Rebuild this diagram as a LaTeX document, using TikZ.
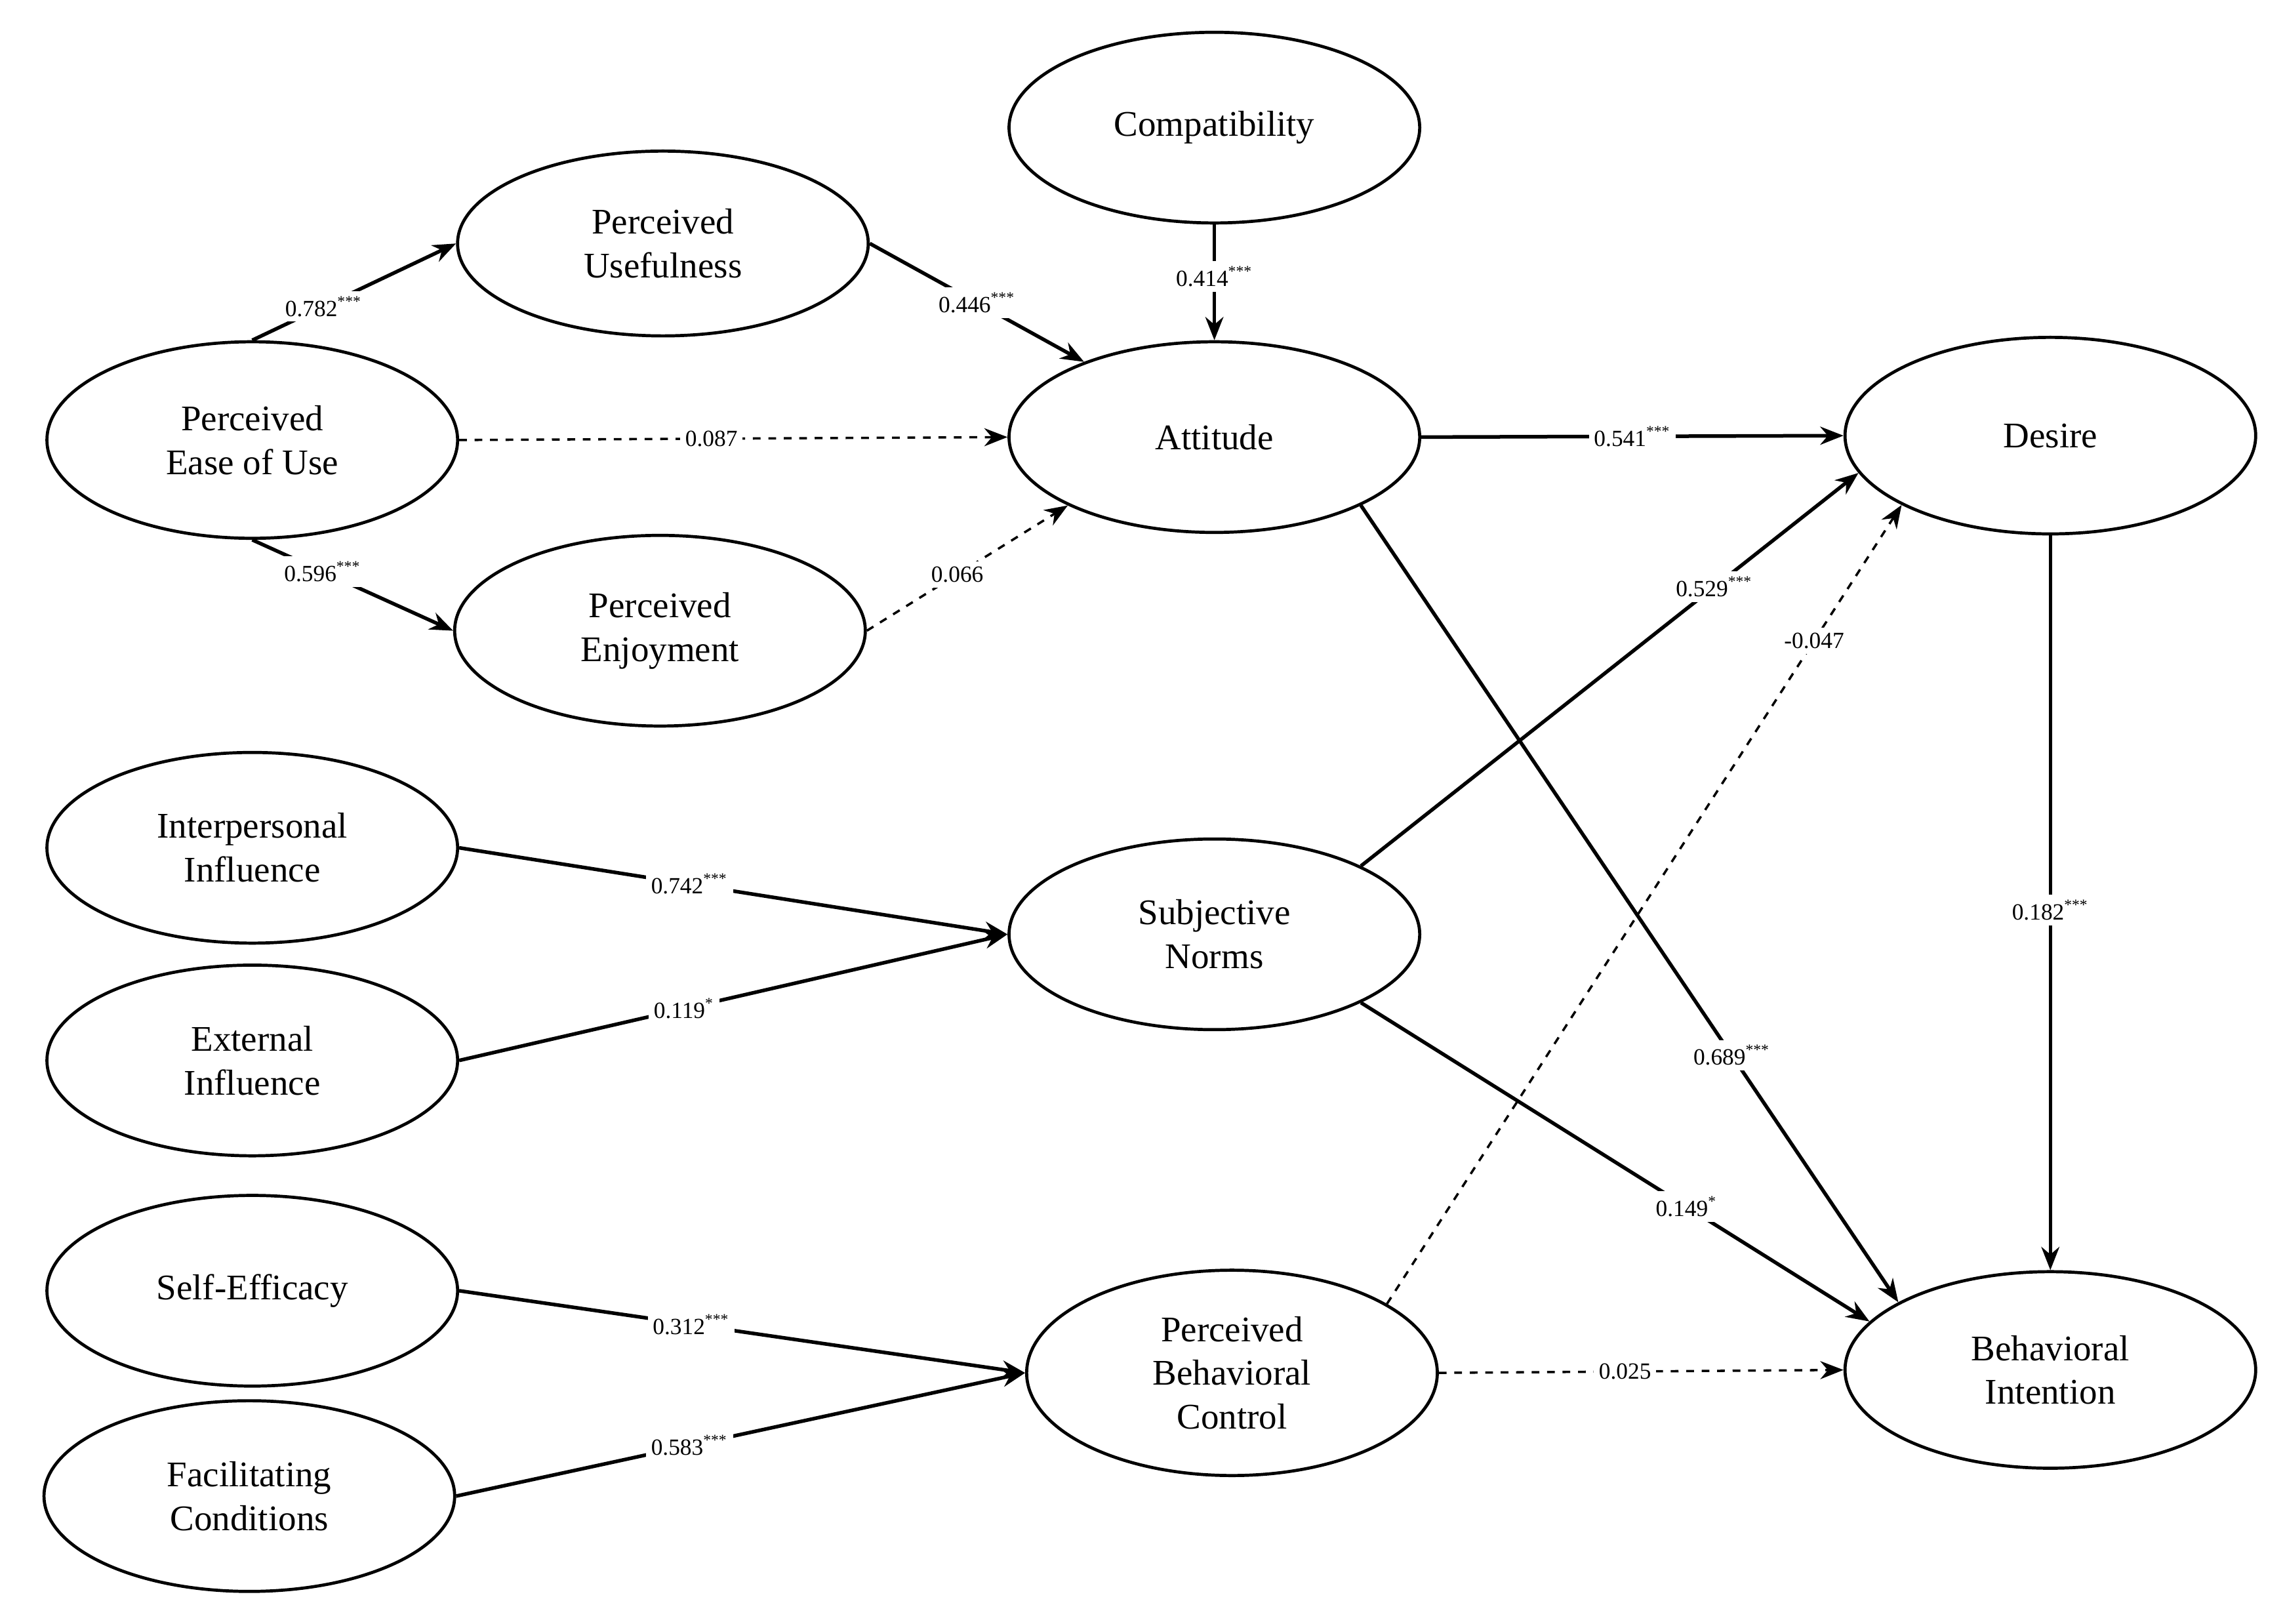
\documentclass[tikz,border=0pt]{standalone}
\usepackage{fontspec}
\setmainfont{Liberation Serif}
\usetikzlibrary{shapes.geometric,arrows.meta}
\begin{document}
\begin{tikzpicture}[x=0.02cm,y=-0.02cm,
  lat/.style={ellipse,draw,line width=1.2pt,minimum width=280\pgfaslength,align=center,font=\fontsize{14}{17}\selectfont},
  con/.style={line width=1.4pt,-{Stealth[length=9pt,width=7pt]}},
  dcon/.style={con,dashed,line width=0.9pt},
  lab/.style={fill=white,font=\fontsize{9}{10}\selectfont,inner sep=2pt}]
\def\pgfaslength{\dimexpr0.02cm\relax}
\useasboundingbox (0,0) rectangle (1558,1107);
\tikzset{e/.style 2 args={lat,minimum width=#1*0.02cm,minimum height=#2*0.02cm}}
\node[e={280}{130}] (compat) at (828,87) {Compatibility};
\node[e={280}{126}] (pu) at (452,166) {Perceived\\Usefulness};
\node[e={280}{134}] (peou) at (172,300) {Perceived\\Ease of Use};
\node[e={280}{130}] (att) at (828,298) {Attitude};
\node[e={280}{134}] (des) at (1398,297) {Desire};
\node[e={280}{130}] (pe) at (450,430) {Perceived\\Enjoyment};
\node[e={280}{130}] (ii) at (172,578) {Interpersonal\\Influence};
\node[e={280}{130}] (sn) at (828,637) {Subjective\\Norms};
\node[e={280}{130}] (ei) at (172,723) {External\\Influence};
\node[e={280}{130}] (se) at (172,880) {Self-Efficacy};
\node[e={280}{140}] (pbc) at (840,936) {Perceived\\Behavioral\\Control};
\node[e={280}{130}] (fc) at (170,1020) {Facilitating\\Conditions};
\node[e={280}{134}] (bi) at (1398,934) {Behavioral\\Intention};
\draw[con] (peou.north) -- node[lab,pos=0.35]{0.782\textsuperscript{***}} (pu.west);
\draw[con] (peou.south) -- node[lab,pos=0.35]{0.596\textsuperscript{***}} (pe.west);
\draw[con] (pu.east) -- node[lab,pos=0.5]{0.446\textsuperscript{***}} (att.150);
\draw[con] (compat.south) -- node[lab,pos=0.45]{0.414\textsuperscript{***}} (att.north);
\draw[dcon] (peou.east) -- node[lab,pos=0.46]{0.087} (att.west);
\draw[dcon] (pe.east) -- node[lab,pos=0.45]{0.066} (att.205);
\draw[con] (att.east) -- node[lab,pos=0.5]{0.541\textsuperscript{***}} (des.west);
\draw[con] (att.-25) -- node[lab,pos=0.69]{0.689\textsuperscript{***}} (bi.156);
\draw[con] (sn.25) -- node[lab,pos=0.71]{0.529\textsuperscript{***}} (des.191);
\draw[dcon] (pbc.24) -- node[lab,pos=0.83]{-0.047} (des.205);
\draw[con] (sn.-25) -- node[lab,pos=0.64]{0.149\textsuperscript{*}} (bi.165);
\draw[dcon] (pbc.east) -- node[lab,pos=0.46]{0.025} (bi.west);
\draw[con] (des.south) -- node[lab,pos=0.51]{0.182\textsuperscript{***}} (bi.north);
\draw[con] (ii.east) -- node[lab,pos=0.42]{0.742\textsuperscript{***}} (sn.west);
\draw[con] (ei.east) -- node[lab,pos=0.41]{0.119\textsuperscript{*}} (sn.west);
\draw[con] (se.east) -- node[lab,pos=0.41]{0.312\textsuperscript{***}} (pbc.west);
\draw[con] (fc.east) -- node[lab,pos=0.41]{0.583\textsuperscript{***}} (pbc.west);
\end{tikzpicture}
\end{document}
